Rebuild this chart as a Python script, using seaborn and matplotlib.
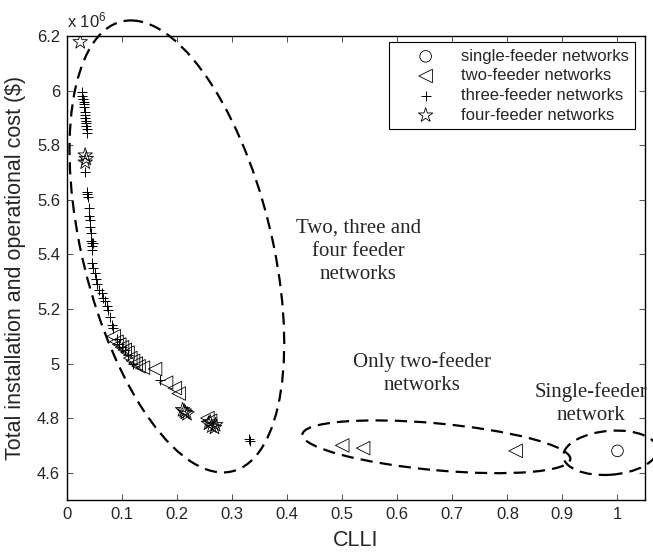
import numpy as np
import pandas as pd
import matplotlib
matplotlib.use("Agg")
import matplotlib.pyplot as plt
import seaborn as sns
from matplotlib.patches import Ellipse
from matplotlib.transforms import Affine2D, ScaledTranslation

# ---- data: CLLI vs. total cost (in units of 1e6 $) ----
single_clli = [1.0]
single_cost = [4.68]

two_clli = [0.085, 0.090, 0.095, 0.100, 0.105, 0.110, 0.115, 0.120, 0.125, 0.130,
            0.138, 0.160, 0.180, 0.196, 0.203, 0.255, 0.260,
            0.500, 0.538, 0.815]
two_cost = [5.10, 5.08, 5.07, 5.06, 5.05, 5.04, 5.02, 5.01, 5.00, 4.99,
            4.985, 4.98, 4.93, 4.91, 4.89, 4.80, 4.79,
            4.70, 4.69, 4.68]

three_clli = [0.027, 0.028, 0.029, 0.030, 0.031, 0.031, 0.032, 0.033, 0.033, 0.034,
              0.034, 0.035, 0.036, 0.036,
              0.033, 0.036, 0.037, 0.038, 0.040, 0.040, 0.041, 0.042, 0.043, 0.044,
              0.045, 0.046, 0.047, 0.046,
              0.046, 0.048, 0.051, 0.053, 0.055, 0.058, 0.063, 0.066, 0.069, 0.073,
              0.075, 0.078, 0.082, 0.084,
              0.090, 0.095, 0.100, 0.105, 0.110, 0.120, 0.169,
              0.330, 0.332]
three_cost = [5.995, 5.98, 5.97, 5.96, 5.95, 5.94, 5.92, 5.91, 5.90, 5.89,
              5.88, 5.87, 5.86, 5.845,
              5.70, 5.63, 5.62, 5.61, 5.57, 5.54, 5.525, 5.50, 5.48, 5.45,
              5.44, 5.43, 5.44, 5.415,
              5.37, 5.35, 5.33, 5.31, 5.29, 5.27, 5.26, 5.24, 5.23, 5.21,
              5.195, 5.17, 5.14, 5.13,
              5.09, 5.07, 5.06, 5.05, 5.03, 5.00, 4.94,
              4.725, 4.715]

four_clli = [0.024, 0.033, 0.033, 0.035, 0.210, 0.213, 0.215, 0.218,
             0.257, 0.260, 0.263, 0.268, 0.270]
four_cost = [6.178, 5.763, 5.737, 5.75, 4.83, 4.825, 4.82, 4.815,
             4.78, 4.785, 4.77, 4.765, 4.775]

x_ticks = [0, 0.1, 0.2, 0.3, 0.4, 0.5, 0.6, 0.7, 0.8, 0.9, 1]
y_ticks = [4.6, 4.8, 5.0, 5.2, 5.4, 5.6, 5.8, 6.0, 6.2]

# ---- style ----
sns.set_style("ticks")
plt.rcParams["font.family"] = ["Liberation Sans", "DejaVu Sans"]
plt.rcParams["mathtext.fontset"] = "custom"
plt.rcParams["mathtext.rm"] = "Liberation Sans"
plt.rcParams["mathtext.it"] = "Liberation Sans"
plt.rcParams["xtick.direction"] = "in"
plt.rcParams["ytick.direction"] = "in"
SERIF = ["Liberation Serif", "DejaVu Serif"]

fig = plt.figure(figsize=(6.53, 5.55), dpi=100)
ax = fig.add_axes([67 / 653, 1 - 500 / 555, 578 / 653, 464 / 555])

frames = {
    "single-feeder networks": (single_clli, single_cost, "o", 70),
    "two-feeder networks": (two_clli, two_cost, "<", 95),
    "three-feeder networks": (three_clli, three_cost, "+", 60),
    "four-feeder networks": (four_clli, four_cost, "*", 120),
}
for label, (xs, ys, mk, sz) in frames.items():
    df = pd.DataFrame({"CLLI": xs, "cost": ys})
    if mk == "+":
        sns.scatterplot(data=df, x="CLLI", y="cost", marker=mk, s=sz, color="black",
                        linewidth=0.7, ax=ax, label=label, legend=False)
    else:
        sns.scatterplot(data=df, x="CLLI", y="cost", marker=mk, s=sz,
                        facecolor="none", edgecolor="black", linewidth=0.6,
                        ax=ax, label=label, legend=False)

ax.set_xlim(0, 1.05)
ax.set_ylim(4.5, 6.2)
ax.set_xticks(x_ticks)
ax.set_yticks(y_ticks)
ax.set_xticklabels([f"{v:g}" for v in x_ticks])
ax.set_yticklabels([f"{v:g}" for v in y_ticks])
ax.tick_params(axis="both", which="both", top=True, right=True, length=4,
               width=0.6, labelsize=12, color="#333333", pad=5)
for sp in ax.spines.values():
    sp.set_linewidth(1.0)
    sp.set_color("black")

ax.set_xlabel("CLLI", fontsize=15.5, labelpad=6)
ax.set_ylabel("Total installation and operational cost ($)", fontsize=15.5, labelpad=8)
ax.text(0.0, 1.012, r"x $10^{6}$", transform=ax.transAxes, ha="left", va="bottom",
        fontsize=12)

# ---- dashed ellipses: centre in data, shape given by two conjugate
#      half-axes in pixels (x right, y up) ----
def dashed_ellipse(cx, cy, u, v):
    shape = Affine2D.from_values(u[0], u[1], v[0], v[1], 0, 0)
    trans = (shape + Affine2D().scale(fig.dpi / 100.0)
             + ScaledTranslation(cx, cy, ax.transData))
    e = Ellipse((0, 0), 2, 2, fill=False, edgecolor="black", linewidth=1.6,
                linestyle=(0, (5.5, 3.2)), transform=trans, clip_on=False)
    ax.add_patch(e)

dashed_ellipse(0.1996, 5.429, (97, 0), (46, -226))
dashed_ellipse(0.671, 4.695, (134, -12), (0, 23.5))
dashed_ellipse(0.987, 4.673, (47, 3), (0, 22))

ax.text(0.529, 5.411, "Two, three and\nfour feeder\nnetworks", ha="center",
        va="center", fontsize=15, family=SERIF, linespacing=1.3)
ax.text(0.644, 4.964, "Only two-feeder\nnetworks", ha="center", va="center",
        fontsize=15, family=SERIF, linespacing=1.3)
ax.text(0.952, 4.853, "Single-feeder\nnetwork", ha="center", va="center",
        fontsize=15, family=SERIF, linespacing=1.25)

leg = ax.legend(loc="upper right", bbox_to_anchor=(0.983, 0.987), fontsize=12,
                frameon=True, fancybox=False, edgecolor="black", framealpha=1,
                handlelength=3.6, handletextpad=0.3, labelspacing=0.28,
                borderpad=0.4, borderaxespad=0, scatterpoints=1)
leg.get_frame().set_linewidth(0.8)

fig.savefig("out.png", dpi=100)
